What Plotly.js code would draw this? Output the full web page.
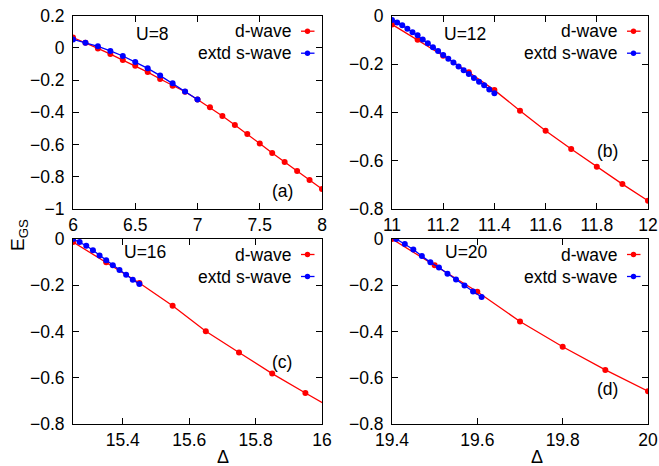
<!DOCTYPE html>
<html>
<head>
<meta charset="utf-8">
<script src="https://cdn.plot.ly/plotly-3.0.1.min.js"></script>
<style>html,body{margin:0;padding:0;background:#fff;}#chart{width:659px;height:466px;}</style>
</head>
<body>
<div id="chart"></div>
<script>
// ---------- data ----------
// Panel (a) U=8
const aDeltaD = [6.0,6.1,6.2,6.3,6.4,6.5,6.6,6.7,6.8,6.9,7.0,7.1,7.2,7.3,7.4,7.5,7.6,7.7,7.8,7.9,8.0];
const aEnergyD = [0.064,0.032,-0.003,-0.038,-0.075,-0.11,-0.15,-0.193,-0.235,-0.272,-0.32,-0.369,-0.423,-0.478,-0.534,-0.594,-0.652,-0.708,-0.764,-0.82,-0.876];
const aDeltaS = [6.0,6.1,6.2,6.3,6.4,6.5,6.6,6.7,6.8,6.9,7.0];
const aEnergyS = [0.053,0.032,0.01,-0.019,-0.05,-0.088,-0.127,-0.172,-0.22,-0.27,-0.32];
// Panel (b) U=12
const bDeltaD = [11.0,11.1,11.2,11.3,11.4,11.5,11.6,11.7,11.8,11.9,12.0];
const bEnergyD = [-0.036,-0.10,-0.166,-0.234,-0.308,-0.393,-0.476,-0.552,-0.625,-0.697,-0.766];
const bDeltaS = [11.00,11.02,11.04,11.06,11.08,11.10,11.12,11.14,11.16,11.18,11.20,11.22,11.24,11.26,11.28,11.30,11.32,11.34,11.36,11.38,11.40];
const bEnergyS = [-0.018,-0.028,-0.040,-0.054,-0.068,-0.081,-0.098,-0.114,-0.131,-0.146,-0.163,-0.178,-0.194,-0.21,-0.226,-0.241,-0.258,-0.273,-0.288,-0.305,-0.321];
// Panel (c) U=16
const cDeltaD = [15.25,15.35,15.45,15.55,15.65,15.75,15.85,15.95,16.05];
const cEnergyD = [-0.013,-0.101,-0.19,-0.289,-0.399,-0.491,-0.582,-0.666,-0.748];
const cDeltaS = [15.25,15.27,15.29,15.31,15.33,15.35,15.37,15.39,15.41,15.43,15.45];
const cEnergyS = [0.0,-0.013,-0.029,-0.049,-0.071,-0.092,-0.114,-0.134,-0.155,-0.176,-0.195];
// Panel (d) U=20
const dDeltaD = [19.4,19.5,19.6,19.7,19.8,19.9,20.0];
const dEnergyD = [0.0,-0.113,-0.228,-0.357,-0.466,-0.566,-0.658];
const dDeltaS = [19.41,19.43,19.45,19.47,19.49,19.51,19.53,19.55,19.57,19.59,19.61];
const dEnergyS = [0.0,-0.022,-0.045,-0.074,-0.101,-0.123,-0.150,-0.175,-0.201,-0.227,-0.251];

const seriesNames = ["d-wave","extd s-wave"];
const panelLabels = ["(a)","(b)","(c)","(d)"];
const uLabels = ["U=8","U=12","U=16","U=20"];

// ---------- styling ----------
const W = 659, H = 466;
const px = x => x / W;
const py = y => 1 - y / H;
const FONT = "Liberation Sans, Arial, Helvetica, sans-serif";
const RED = "#ff0000", BLUE = "#0000ff";

const panels = [
  {xa:"x",  ya:"y",  L:73,  R:322, T:15.7, B:209, xr:[6,8],       yr:[-1,0.2],  xt0:6,    xdt:0.5, yt0:0, ydt:0.2,
   dx:aDeltaD, dy:aEnergyD, sx:aDeltaS, sy:aEnergyS, lab:[282,191], u:[152,34]},
  {xa:"x2", ya:"y2", L:392, R:648, T:15.7, B:209, xr:[11,12],     yr:[-0.8,0],  xt0:11,   xdt:0.2, yt0:0, ydt:0.2,
   dx:bDeltaD, dy:bEnergyD, sx:bDeltaS, sy:bEnergyS, lab:[607,151], u:[465,34]},
  {xa:"x3", ya:"y3", L:73,  R:322, T:239, B:424, xr:[15.25,16],  yr:[-0.8,0],  xt0:15.4, xdt:0.2, yt0:0, ydt:0.2,
   dx:cDeltaD, dy:cEnergyD, sx:cDeltaS, sy:cEnergyS, lab:[282,362], u:[145,252]},
  {xa:"x4", ya:"y4", L:392, R:648, T:239, B:424, xr:[19.4,20],   yr:[-0.8,0],  xt0:19.4, xdt:0.2, yt0:0, ydt:0.2,
   dx:dDeltaD, dy:dEnergyD, sx:dDeltaS, sy:dEnergyS, lab:[607,389], u:[466,252]}
];

const traces = [];
const layout = {
  width: W, height: H,
  margin: {l:0, r:0, t:0, b:0, pad:0},
  paper_bgcolor: "#fff", plot_bgcolor: "#fff",
  showlegend: false,
  font: {family: FONT, size: 17.5, color: "#000"},
  annotations: [], shapes: []
};

panels.forEach((p, i) => {
  traces.push({x:p.dx, y:p.dy, xaxis:p.xa, yaxis:p.ya, type:"scatter", mode:"lines+markers",
    name:seriesNames[0], line:{color:RED, width:1.3}, marker:{color:RED, size:6}});
  traces.push({x:p.sx, y:p.sy, xaxis:p.xa, yaxis:p.ya, type:"scatter", mode:"lines+markers",
    name:seriesNames[1], line:{color:BLUE, width:1.3}, marker:{color:BLUE, size:6}});
  const xk = "xaxis" + (i ? i + 1 : ""), yk = "yaxis" + (i ? i + 1 : "");
  const common = {showline:true, linecolor:"#000", linewidth:1, mirror:"allticks",
    ticks:"inside", ticklen:6, tickwidth:1, tickcolor:"#000", showgrid:false, zeroline:false,
    tickfont:{family:FONT, size:17.5, color:"#000"}, tickmode:"linear"};
  layout[xk] = Object.assign({}, common, {domain:[px(p.L), px(p.R)], range:p.xr, tick0:p.xt0, dtick:p.xdt,
    anchor:p.ya});
  layout[yk] = Object.assign({}, common, {domain:[py(p.B), py(p.T)], range:p.yr, tick0:p.yt0, dtick:p.ydt,
    anchor:p.xa, ticklabelstandoff:4});
  // annotations
  layout.annotations.push({xref:"paper", yref:"paper", x:px(p.u[0]), y:py(p.u[1]), text:uLabels[i],
    showarrow:false, xanchor:"center", yanchor:"middle", font:{size:17.5}});
  layout.annotations.push({xref:"paper", yref:"paper", x:px(p.lab[0]), y:py(p.lab[1]), text:panelLabels[i],
    showarrow:false, xanchor:"center", yanchor:"middle", font:{size:17.5}});
  // legend
  [[RED, 15.5], [BLUE, 37.5]].forEach((c, k) => {
    const yy = p.T + c[1];
    layout.annotations.push({xref:"paper", yref:"paper", x:px(p.R - 29.5), y:py(yy), text:seriesNames[k],
      showarrow:false, xanchor:"right", yanchor:"middle", font:{size:17.5}});
    layout.shapes.push({type:"line", xref:"paper", yref:"paper", x0:px(p.R - 21), x1:px(p.R - 7.5),
      y0:py(yy), y1:py(yy), line:{color:c[0], width:1.3}});
    layout.shapes.push({type:"circle", xref:"paper", yref:"paper", xsizemode:"pixel", ysizemode:"pixel",
      xanchor:px(p.R - 14.5), yanchor:py(yy), x0:-2.7, x1:2.7, y0:-2.7, y1:2.7,
      fillcolor:c[0], line:{color:c[0], width:0}});
  });
});

// axis titles
layout.annotations.push({xref:"paper", yref:"paper", x:px(19), y:py(235), text:"E<sub>GS</sub>",
  textangle:-90, showarrow:false, xanchor:"center", yanchor:"middle", font:{size:19}});
layout.annotations.push({xref:"paper", yref:"paper", x:px(223), y:py(457), text:"Δ",
  showarrow:false, xanchor:"center", yanchor:"middle", font:{size:18}});
layout.annotations.push({xref:"paper", yref:"paper", x:px(537), y:py(457), text:"Δ",
  showarrow:false, xanchor:"center", yanchor:"middle", font:{size:18}});

Plotly.newPlot("chart", traces, layout, {staticPlot:true, displayModeBar:false});
</script>
</body>
</html>
